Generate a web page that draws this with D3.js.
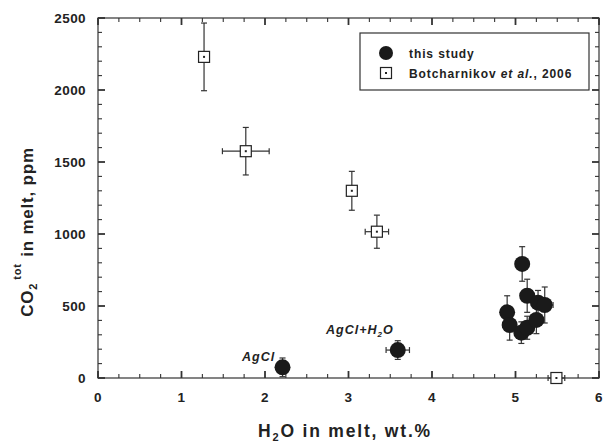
<!DOCTYPE html>
<html>
<head>
<meta charset="utf-8">
<script src="https://cdn.jsdelivr.net/npm/d3@7"></script>
<style>
  body { margin: 0; background: #fff; }
  text { font-family: "Liberation Sans", Arial, sans-serif; font-weight: bold; fill: #222; }
</style>
</head>
<body>
<svg id="chart" width="606" height="445"></svg>
<script>
'use strict'
// this study: H2O wt.%, CO2 ppm, errors
const studyH2O  = [2.21, 3.59, 5.08, 5.14, 5.27, 5.35, 4.90, 4.93, 5.07, 5.14, 5.25]
const studyCO2  = [74, 194, 792, 571, 523, 507, 456, 368, 315, 349, 403]
const studyXErr = [0, 0.14, 0, 0.08, 0.08, 0.1, 0.06, 0.08, 0.08, 0.08, 0.08]
const studyYErr = [65, 65, 120, 115, 85, 125, 115, 105, 75, 80, 95]

// Botcharnikov et al., 2006
const botH2O  = [1.27, 1.77, 3.04, 3.34, 5.49]
const botCO2  = [2230, 1575, 1300, 1016, 0]
const botXErr = [0, 0.28, 0, 0.14, 0.1]
const botYErr = [235, 165, 135, 115, 0]

const xTicks = [0, 1, 2, 3, 4, 5, 6]
const yTicks = [0, 500, 1000, 1500, 2000, 2500]

const svg = d3.select('#chart')
const x = d3.scaleLinear().domain([0, 6]).range([98, 599])
const y = d3.scaleLinear().domain([0, 2500]).range([378, 18])

const frame = svg.append('g')
frame.append('rect')
  .attr('x', x(0)).attr('y', y(2500))
  .attr('width', x(6) - x(0)).attr('height', y(0) - y(2500))
  .attr('fill', 'none').attr('stroke', '#333').attr('stroke-width', 1.2)

// ticks pointing inward on all four sides
const xMinor = d3.range(0, 6.01, 0.25)
const yMinor = d3.range(0, 2501, 100)
const tickG = svg.append('g').attr('stroke', '#333').attr('stroke-width', 1.2)
xMinor.forEach(v => {
  const major = Math.abs(v - Math.round(v)) < 1e-6
  const len = major ? 7 : 4
  tickG.append('line').attr('x1', x(v)).attr('x2', x(v)).attr('y1', y(0)).attr('y2', y(0) - len)
    .attr('stroke-width', major ? 1.8 : 1.1)
  tickG.append('line').attr('x1', x(v)).attr('x2', x(v)).attr('y1', y(2500)).attr('y2', y(2500) + len)
    .attr('stroke-width', major ? 1.8 : 1.1)
})
yMinor.forEach(v => {
  const major = v % 500 === 0
  const len = major ? 7 : 4
  tickG.append('line').attr('y1', y(v)).attr('y2', y(v)).attr('x1', x(0)).attr('x2', x(0) + len)
    .attr('stroke-width', major ? 1.8 : 1.1)
  tickG.append('line').attr('y1', y(v)).attr('y2', y(v)).attr('x1', x(6)).attr('x2', x(6) - len)
    .attr('stroke-width', major ? 1.8 : 1.1)
})

svg.append('g').selectAll('text').data(xTicks).enter().append('text')
  .attr('x', d => x(d)).attr('y', 402)
  .attr('text-anchor', 'middle').attr('font-size', 13.5).attr('letter-spacing', 0.4)
  .text(d => d)
svg.append('g').selectAll('text').data(yTicks).enter().append('text')
  .attr('x', 86).attr('y', d => y(d) + 5)
  .attr('text-anchor', 'end').attr('font-size', 13.5).attr('letter-spacing', 0.4)
  .text(d => d)

// axis titles
const xt = svg.append('text').attr('x', 345).attr('y', 437)
  .attr('text-anchor', 'middle').attr('font-size', 17.5).attr('letter-spacing', 1.8)
xt.append('tspan').text('H')
xt.append('tspan').attr('font-size', 11).attr('dy', 4).text('2')
xt.append('tspan').attr('dy', -4).text('O in melt, wt.%')

const yt = svg.append('text').attr('transform', 'translate(33,232) rotate(-90)')
  .attr('text-anchor', 'middle').attr('font-size', 17).attr('letter-spacing', 0.8)
yt.append('tspan').text('CO')
yt.append('tspan').attr('font-size', 11).attr('dy', 4).text('2')
yt.append('tspan').attr('font-size', 11).attr('dy', -16).attr('dx', 3).text('tot')
yt.append('tspan').attr('dy', 12).attr('dx', 1).text(' in melt, ppm')

// error bars
function errorBars(g, xs, ys, xe, ye) {
  const cap = 3
  xs.forEach((xv, i) => {
    const eg = g.append('g').attr('stroke', '#333').attr('stroke-width', 1.2)
    if (ye[i] > 0) {
      eg.append('line').attr('x1', x(xv)).attr('x2', x(xv)).attr('y1', y(ys[i] - ye[i])).attr('y2', y(ys[i] + ye[i]))
      eg.append('line').attr('x1', x(xv) - cap).attr('x2', x(xv) + cap).attr('y1', y(ys[i] + ye[i])).attr('y2', y(ys[i] + ye[i]))
      eg.append('line').attr('x1', x(xv) - cap).attr('x2', x(xv) + cap).attr('y1', y(ys[i] - ye[i])).attr('y2', y(ys[i] - ye[i]))
    }
    if (xe[i] > 0) {
      eg.append('line').attr('x1', x(xv - xe[i])).attr('x2', x(xv + xe[i])).attr('y1', y(ys[i])).attr('y2', y(ys[i]))
      eg.append('line').attr('x1', x(xv - xe[i])).attr('x2', x(xv - xe[i])).attr('y1', y(ys[i]) - cap).attr('y2', y(ys[i]) + cap)
      eg.append('line').attr('x1', x(xv + xe[i])).attr('x2', x(xv + xe[i])).attr('y1', y(ys[i]) - cap).attr('y2', y(ys[i]) + cap)
    }
  })
}

const botG = svg.append('g')
errorBars(botG, botH2O, botCO2, botXErr, botYErr)
const studyG = svg.append('g')
errorBars(studyG, studyH2O, studyCO2, studyXErr, studyYErr)

function square(g, cx, cy) {
  g.append('rect').attr('x', cx - 5.5).attr('y', cy - 5.5).attr('width', 11).attr('height', 11)
    .attr('fill', '#fff').attr('stroke', '#222').attr('stroke-width', 1.2)
  g.append('rect').attr('x', cx - 1).attr('y', cy - 1).attr('width', 2).attr('height', 2).attr('fill', '#222')
}
botH2O.forEach((v, i) => square(botG, x(v), y(botCO2[i])))

studyG.selectAll('circle').data(studyH2O).enter().append('circle')
  .attr('cx', d => x(d)).attr('cy', (d, i) => y(studyCO2[i]))
  .attr('r', 8).attr('fill', '#1a1a1a')

// annotations
svg.append('text').attr('x', 242).attr('y', 361).attr('font-size', 12.5)
  .attr('font-style', 'italic').attr('letter-spacing', 1).text('AgCl')
const ann = svg.append('text').attr('x', 326).attr('y', 334).attr('font-size', 12.5)
  .attr('font-style', 'italic').attr('letter-spacing', 1)
ann.append('tspan').text('AgCl+H')
ann.append('tspan').attr('font-size', 8).attr('dy', 3).text('2')
ann.append('tspan').attr('dy', -3).text('O')

// legend
const leg = svg.append('g')
leg.append('rect').attr('x', 360).attr('y', 33).attr('width', 229).attr('height', 57)
  .attr('fill', '#fff').attr('stroke', '#333').attr('stroke-width', 1.2)
leg.append('circle').attr('cx', 386).attr('cy', 53).attr('r', 7).attr('fill', '#1a1a1a')
square(leg, 386, 73)
leg.append('text').attr('x', 409).attr('y', 58).attr('font-size', 12).attr('letter-spacing', 0.9).text('this study')
const lt = leg.append('text').attr('x', 409).attr('y', 78).attr('font-size', 12).attr('letter-spacing', 0.9)
lt.append('tspan').text('Botcharnikov ')
lt.append('tspan').attr('font-style', 'italic').text('et al.')
lt.append('tspan').text(', 2006')
</script>
</body>
</html>
